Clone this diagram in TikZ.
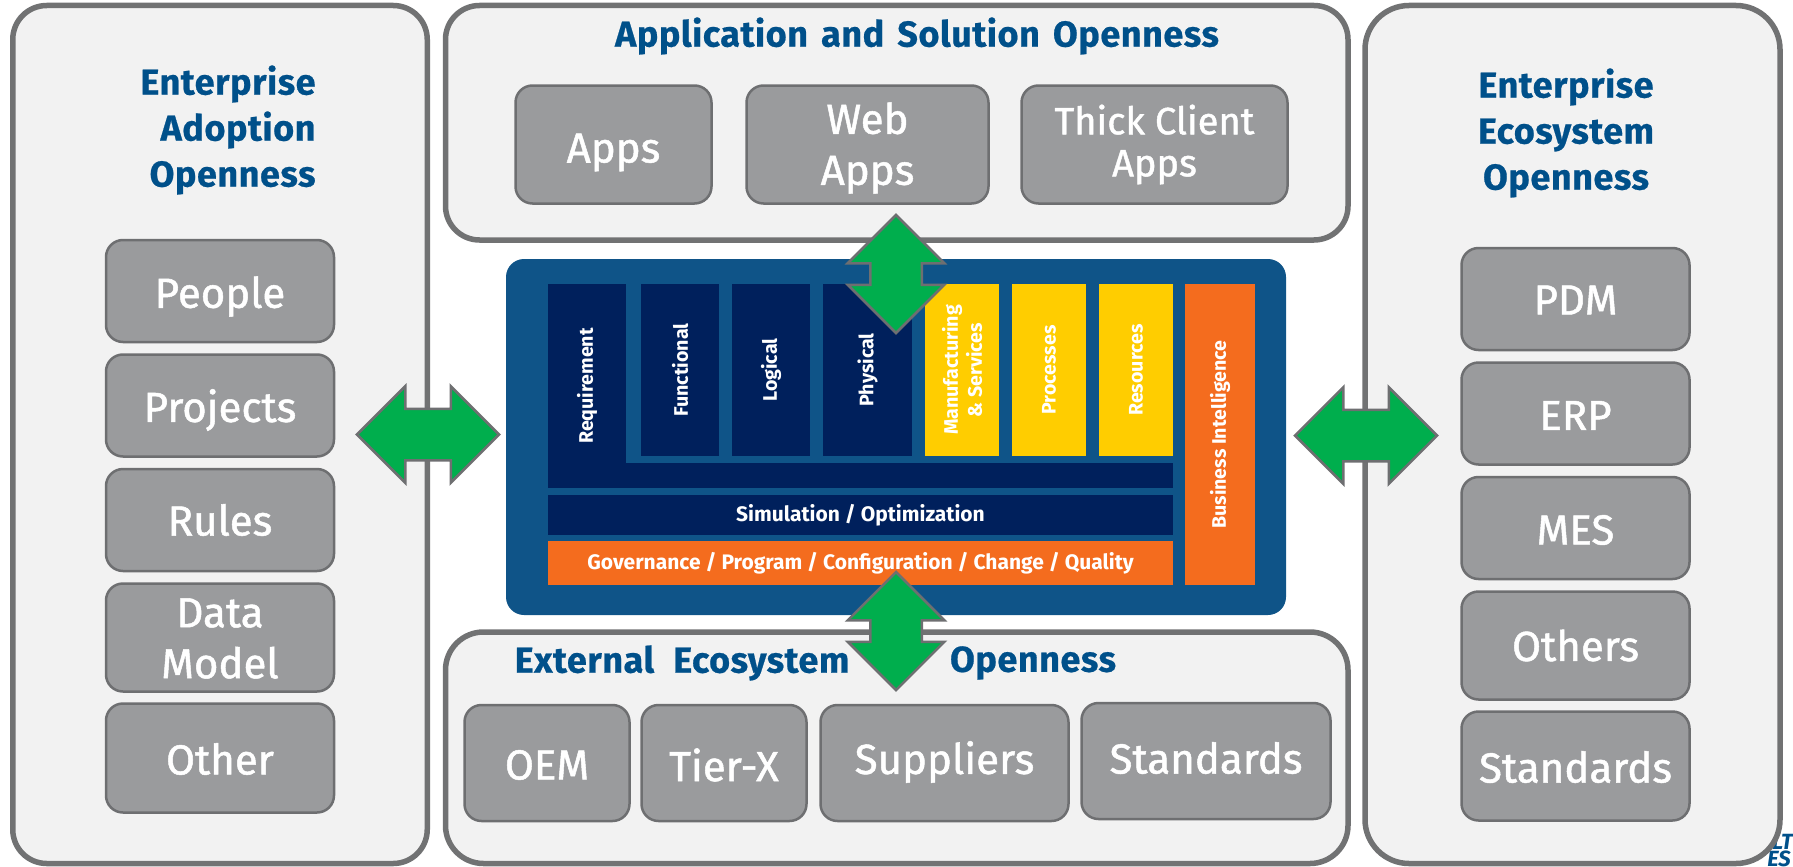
\documentclass[tikz,border=0pt]{standalone}
\usepackage{fontspec}
\setmainfont{Fira Sans}
\newfontfamily\boxfont[FakeBold=1.2]{Fira Sans}
\newfontfamily\titlefont[LetterSpace=1.5,FakeBold=0.6]{Fira Sans Bold}
\usetikzlibrary{shapes.arrows}
\definecolor{panelgrey}{HTML}{717273}
\definecolor{panelfill}{HTML}{F2F2F2}
\definecolor{boxgrey}{HTML}{9A9B9D}
\definecolor{boxline}{HTML}{6E6F71}
\definecolor{coreblue}{HTML}{0F5488}
\definecolor{navy}{HTML}{00205C}
\definecolor{gold}{HTML}{FFCD00}
\definecolor{flame}{HTML}{F46C1E}
\definecolor{linkgreen}{HTML}{00AE4D}
\definecolor{titleblue}{HTML}{00508A}
\newcommand{\nudge}[2]{\raisebox{-#1pt}[\height][\depth]{#2}}
\tikzset{
  panel/.style={draw=panelgrey,fill=panelfill,line width=5.5,rounded corners=34,outer sep=0,inner sep=0},
  title/.style={text=titleblue,font=\fontsize{36}{46}\titlefont,align=center,inner sep=0},
  greybox/.style={draw=boxline,fill=boxgrey,line width=2.5,rounded corners=17,outer sep=0,inner sep=0,text=white,align=center,font=\fontsize{42}{51}\boxfont},
  band/.style={fill=#1,outer sep=0,inner sep=0,text=white,align=center,font=\fontsize{19.6}{24}\selectfont\bfseries},
  flatband/.style={band=#1,font=\fontsize{21}{24}\selectfont\bfseries},
  link/.style={shape=double arrow,draw=boxline,fill=linkgreen,line width=2.5,inner xsep=0,inner ysep=24.5,double arrow head extend=22.5,double arrow tip angle=90},
  logotext/.style={text=titleblue,font=\fontsize{22}{22}\selectfont\bfseries\itshape,inner sep=0,anchor=east},
}
\begin{document}
\begin{tikzpicture}[x=1pt,y=-1pt]
\useasboundingbox (0,0) rectangle (1793,867);
% logo behind the panel
\draw (1793,841.5) node[logotext] (logoa) {LT} ;
\draw (1791,858.5) node[logotext] (logob) {ES} ;
% panels
\draw (220,434.5) node[panel,minimum width=414.5,minimum height=858] (adoption) {} ;
\draw (896.75,122.75) node[panel,minimum width=902.5,minimum height=234.5] (application) {} ;
\draw (896.75,747.75) node[panel,rounded corners=38,minimum width=902.5,minimum height=231.5] (external) {} ;
\draw (1572.5,434.5) node[panel,rounded corners=44,minimum width=415,minimum height=858] (ecosystem) {} ;
% titles
\draw (228,130) node[title,align=right] (adoptiontitle) {Enterprise\\Adoption\\Openness\hspace{5pt}} ;
\draw (917,36) node[title] (applicationtitle) {Application\hspace{4pt} and\hspace{4pt} Solution\hspace{4pt} Openness} ;
\draw (682,663) node[title] (externaltitle) {External\hspace{10pt} Ecosystem} ;
\draw (1033,663) node[title] (externaltitleb) {Openness} ;
\draw (1566,133) node[title] (ecosystemtitle) {Enterprise\\Ecosystem\\Openness} ;
% left boxes
\draw (220,291) node[greybox,minimum width=228,minimum height=102] (people) {\nudge{5.5}{People}} ;
\draw (220,405.5) node[greybox,minimum width=228,minimum height=102] (projects) {\nudge{4.5}{Projects}} ;
\draw (220,520) node[greybox,minimum width=228,minimum height=102] (rules) {Rules} ;
\draw (220,637.5) node[greybox,minimum width=228,minimum height=108] (datamodel) {\nudge{1}{Data}\\\nudge{1}{Model}} ;
\draw (220,758) node[greybox,minimum width=228,minimum height=109] (other) {\nudge{1}{Other}} ;
% top boxes
\draw (613.5,144.5) node[greybox,minimum width=196,minimum height=118] (apps) {\nudge{8}{Apps}} ;
\draw (867.5,144.5) node[greybox,minimum width=242,minimum height=118] (webapps) {\nudge{3.5}{Web}\\\nudge{3.5}{Apps}} ;
\draw (1154.5,144.5) node[greybox,minimum width=266,minimum height=118,font=\fontsize{38}{42}\boxfont] (thick) {Thick Client\\Apps} ;
% bottom boxes
\draw (547,763) node[greybox,minimum width=165,minimum height=116] (oem) {\nudge{2}{OEM}} ;
\draw (724,763) node[greybox,minimum width=165,minimum height=116] (tierx) {\nudge{2}{Tier-X}} ;
\draw (944.5,763) node[greybox,minimum width=248,minimum height=116] (suppliers) {\nudge{-1}{Suppliers}} ;
\draw (1206,761) node[greybox,minimum width=249,minimum height=116] (standardsa) {\nudge{-3}{Standards}} ;
% right boxes
\draw (1575.5,299) node[greybox,minimum width=228,minimum height=102] (pdm) {\nudge{1}{PDM}} ;
\draw (1575.5,413.5) node[greybox,minimum width=228,minimum height=102] (erp) {\nudge{2}{ERP}} ;
\draw (1575.5,528) node[greybox,minimum width=228,minimum height=102] (mes) {\nudge{2}{MES}} ;
\draw (1575.5,645.5) node[greybox,minimum width=228,minimum height=108] (others) {Others} ;
\draw (1575.5,766) node[greybox,minimum width=228,minimum height=109] (standardsb) {\nudge{1}{Standards}} ;
% core
\draw (896,437) node[fill=coreblue,rounded corners=18,minimum width=780,minimum height=356,inner sep=0] (core) {} ;
\draw (587,386) node[band=navy,rotate=90,minimum width=204,minimum height=78] (requirement) {Requirement} ;
\draw (860.5,475.5) node[band=navy,minimum width=625,minimum height=25] (requirementbar) {} ;
\draw (680,370) node[band=navy,rotate=90,minimum width=172,minimum height=78] (functional) {Functional} ;
\draw (771,370) node[band=navy,rotate=90,minimum width=172,minimum height=78] (logical) {Logical} ;
\draw (867.5,370) node[band=navy,rotate=90,minimum width=172,minimum height=89] (physical) {Physical} ;
\draw (962,370) node[band=gold,rotate=90,minimum width=172,minimum height=74] (manufacturing) {Manufacturing\\\&\ Services} ;
\draw (1049,370) node[band=gold,rotate=90,minimum width=172,minimum height=74] (processes) {Processes} ;
\draw (1136,370) node[band=gold,rotate=90,minimum width=172,minimum height=74] (resources) {Resources} ;
\draw (1220,434.5) node[band=flame,rotate=90,minimum width=301,minimum height=70] (business) {Business Intelligence} ;
\draw (860.5,515) node[flatband=navy,minimum width=625,minimum height=40] (simulation) {Simulation / Optimization} ;
\draw (860.5,563) node[flatband=flame,minimum width=625,minimum height=44] (governance) {Governance / Program / Configuration / Change / Quality} ;
% links
\draw (428,434.5) node[link,minimum height=142] (linkleft) {} ;
\draw (1366,435.5) node[link,minimum height=142] (linkright) {} ;
\draw (896,274) node[link,rotate=90,minimum height=118] (linktop) {} ;
\draw (896,631) node[link,rotate=90,minimum height=118] (linkbottom) {} ;
\end{tikzpicture}
\end{document}
